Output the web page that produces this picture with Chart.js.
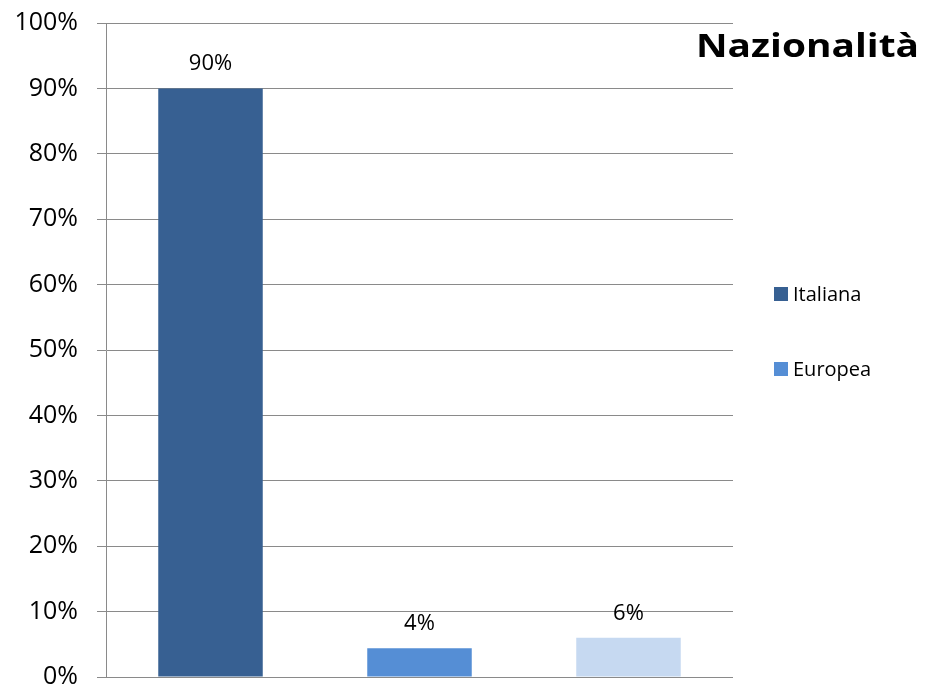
<!DOCTYPE html>
<html>
<head>
<meta charset="utf-8">
<script src="https://cdn.jsdelivr.net/npm/chart.js@4/dist/chart.umd.min.js"></script>
<style>
    html, body { margin: 0; padding: 0; background: #fff; }
    #wrap { position: relative; width: 925px; height: 689px; }
    #legend { position: absolute; left: 774px; top: 0; font-family: "Open Sans", sans-serif; font-size: 20px; color: #000; }
    .leg-item { position: absolute; left: 0; white-space: nowrap; display: flex; align-items: center; }
    .leg-box { width: 14px; height: 14px; margin-right: 5px; }
</style>
</head>
<body>
<div id="wrap">
    <canvas id="chart" width="925" height="689"></canvas>
    <div id="legend"></div>
</div>
<script>
// Chart data
const categories = ['Italiana', 'Europea', ''];
const values = [0.90, 0.044, 0.06];
const barColors = ['#376092', '#558ED5', '#C6D9F1'];
const yTicks = [0, 0.1, 0.2, 0.3, 0.4, 0.5, 0.6, 0.7, 0.8, 0.9, 1.0];
const chartTitle = 'Nazionalità';

const gridColor = '#8A8A8A';

function pct(v) {
    return Math.round(v * 100) + '%';
}

// Value labels above each bar
const barLabels = {
    id: 'barLabels',
    afterDatasetsDraw(chart) {
        const ctx = chart.ctx;
        ctx.save();
        ctx.font = '22px "Open Sans", sans-serif';
        ctx.fillStyle = '#000';
        ctx.textAlign = 'center';
        ctx.textBaseline = 'alphabetic';
        chart.getDatasetMeta(0).data.forEach((bar, i) => {
            ctx.fillText(pct(values[i]), bar.x, bar.y - 18);
        });
        ctx.restore();
    }
};

// Title in the top right corner
const cornerTitle = {
    id: 'cornerTitle',
    afterDraw(chart) {
        const ctx = chart.ctx;
        ctx.save();
        ctx.font = 'bold 32px "Open Sans", sans-serif';
        ctx.fillStyle = '#000';
        ctx.textBaseline = 'alphabetic';
        const w = ctx.measureText(chartTitle).width;
        const target = 223;
        ctx.translate(919 - target, 57);
        ctx.scale(target / w, 1);
        ctx.fillText(chartTitle, 0, 0);
        ctx.restore();
    }
};

const ctx = document.getElementById('chart').getContext('2d');
new Chart(ctx, {
    type: 'bar',
    data: {
        labels: categories,
        datasets: [{
            data: values,
            backgroundColor: barColors,
            borderWidth: 0,
            categoryPercentage: 1,
            barPercentage: 0.5
        }]
    },
    options: {
        responsive: false,
        animation: false,
        layout: {
            padding: { top: 23, right: 192, bottom: 12, left: 0 }
        },
        plugins: {
            legend: { display: false },
            tooltip: { enabled: false }
        },
        scales: {
            x: { display: false },
            y: {
                min: 0,
                max: 1,
                afterFit(scale) {
                    scale.width = 106;
                    scale.paddingTop = 0;
                    scale.paddingBottom = 0;
                },
                afterBuildTicks(scale) {
                    scale.ticks = yTicks.map(v => ({ value: v }));
                },
                border: { color: gridColor, width: 1 },
                grid: { color: gridColor, lineWidth: 1, tickLength: 9 },
                ticks: {
                    padding: 19,
                    color: '#000',
                    font: { family: 'Open Sans', size: 25 },
                    callback: v => pct(v)
                }
            }
        }
    },
    plugins: [barLabels, cornerTitle]
});

// Legend, only the named categories appear
const legend = document.getElementById('legend');
const legendTops = [294, 369];
categories.forEach((name, i) => {
    if (!name) return;
    const item = document.createElement('div');
    item.className = 'leg-item';
    item.style.top = (legendTops[i] - 14) + 'px';
    item.innerHTML = `<span class="leg-box" style="background:${barColors[i]}"></span><span>${name}</span>`;
    legend.appendChild(item);
});
</script>
</body>
</html>
